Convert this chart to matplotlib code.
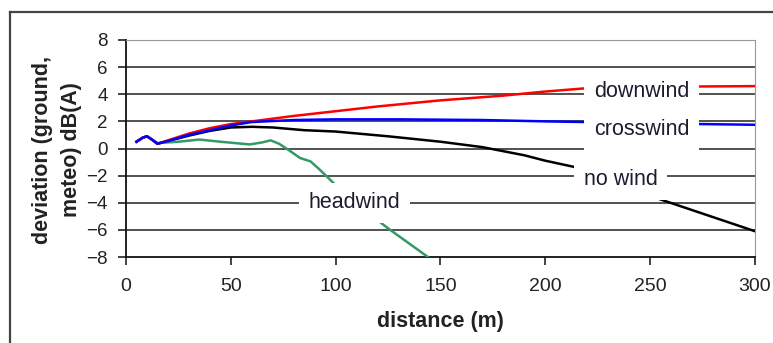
import matplotlib
matplotlib.use("Agg")
import matplotlib.pyplot as plt
from matplotlib.lines import Line2D

plt.rcParams['font.family'] = ['Liberation Sans', 'DejaVu Sans']

# distance (m) and deviation dB(A)
down_d = [5, 8, 10, 12, 15, 20, 30, 40, 50, 60, 80, 100, 120, 150, 180, 200, 220, 250, 300]
down_v = [0.5, 0.8, 0.9, 0.7, 0.35, 0.6, 1.1, 1.5, 1.8, 2.0, 2.4, 2.75, 3.1, 3.55, 3.9, 4.2, 4.45, 4.55, 4.6]

cross_d = [5, 8, 10, 12, 15, 20, 30, 40, 50, 60, 80, 100, 130, 170, 200, 220, 250, 300]
cross_v = [0.5, 0.8, 0.9, 0.7, 0.35, 0.55, 1.0, 1.35, 1.7, 1.95, 2.1, 2.15, 2.15, 2.1, 2.0, 1.95, 1.85, 1.75]

nowind_d = [5, 8, 10, 12, 15, 20, 30, 40, 50, 60, 70, 85, 100, 125, 150, 170, 190, 200, 215, 250, 300]
nowind_v = [0.5, 0.8, 0.9, 0.7, 0.35, 0.55, 0.95, 1.3, 1.55, 1.6, 1.55, 1.35, 1.25, 0.9, 0.5, 0.1, -0.5, -0.9, -1.4, -3.5, -6.1]

head_d = [5, 8, 10, 12, 15, 25, 35, 45, 52, 59, 65, 69, 73, 77, 83, 88, 92, 100, 115, 126, 144]
head_v = [0.5, 0.8, 0.9, 0.7, 0.4, 0.5, 0.66, 0.5, 0.4, 0.3, 0.45, 0.6, 0.35, -0.05, -0.7, -0.95, -1.5, -2.7, -4.7, -6.0, -8.0]

x_ticks = [0, 50, 100, 150, 200, 250, 300]
y_ticks = [-8, -6, -4, -2, 0, 2, 4, 6, 8]

# label name, distance, deviation
labels = [("downwind", 246, 4.2), ("crosswind", 246, 1.4), ("no wind", 236, -2.3), ("headwind", 109, -4.0)]

fig = plt.figure(figsize=(7.73, 3.43), dpi=100)
ax = fig.add_axes([126 / 773, 1 - 257 / 343, (755 - 126) / 773, (257 - 40) / 343])

for y in y_ticks[1:-1]:
    ax.axhline(y, color='#333333', lw=1.2, zorder=1)

ax.plot(nowind_d, nowind_v, color='black', lw=1.8, zorder=3)
ax.plot(head_d, head_v, color='#339966', lw=1.8, zorder=3)
ax.plot(down_d, down_v, color='#ff0000', lw=1.8, zorder=3)
ax.plot(cross_d, cross_v, color='#0000ff', lw=1.8, zorder=3)

for name, d, v in labels:
    ax.text(d, v, name, fontsize=15.5, color='#1c1c30', ha='center', va='center', zorder=5,
            bbox=dict(boxstyle='square,pad=0.45', fc='white', ec='none'))

ax.set_xlim(0, 300)
ax.set_ylim(-8, 8)
ax.set_xticks(x_ticks)
ax.set_yticks(y_ticks)
ax.tick_params(axis='x', direction='out', length=6, width=1.2, pad=9, labelsize=14, colors='#222222')
ax.tick_params(axis='y', direction='out', length=6, width=1.2, pad=7, labelsize=13.5, colors='#222222')
ax.spines['left'].set_color('#111111')
ax.spines['bottom'].set_color('#111111')
ax.spines['left'].set_linewidth(1.3)
ax.spines['bottom'].set_linewidth(1.3)
ax.spines['top'].set_color('#999999')
ax.spines['right'].set_color('#999999')

fig.text(57 / 773, 1 - 150 / 343, "deviation (ground,\nmeteo) dB(A)", rotation=90, ha='center', va='center',
         fontsize=15.5, fontweight='bold', color='#222222', multialignment='center', linespacing=1.55)
fig.text(440 / 773, 1 - 321 / 343, "distance (m)", ha='center', va='center',
         fontsize=15.5, fontweight='bold', color='#222222')

# outer frame (top and left edges only)
fig.add_artist(Line2D([10 / 773, 1], [1 - 12 / 343, 1 - 12 / 343], color='#444444', lw=1.6))
fig.add_artist(Line2D([10 / 773, 10 / 773], [1 - 12 / 343, 0], color='#444444', lw=1.6))

fig.savefig("out.png", dpi=100)
